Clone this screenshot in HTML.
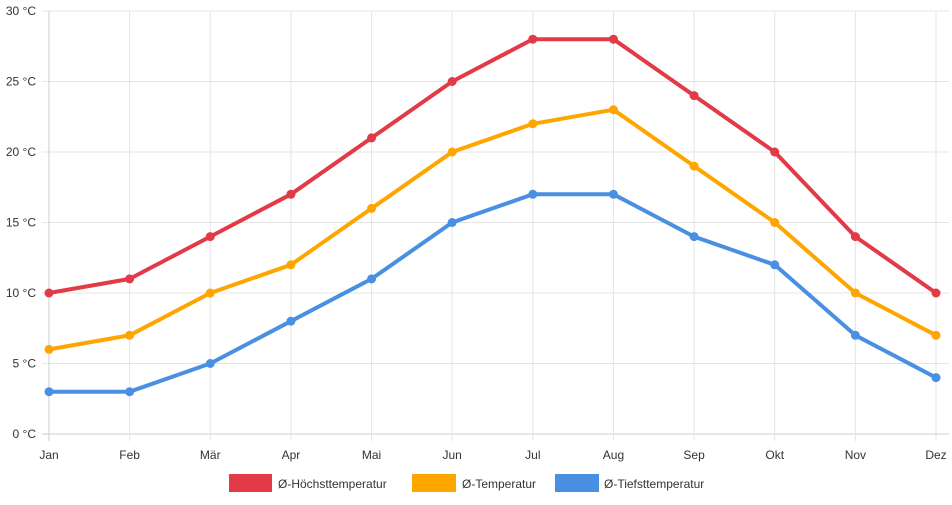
<!DOCTYPE html>
<html><head><meta charset="utf-8"><style>
body{margin:0;background:#fff;font-family:"Liberation Sans",sans-serif}
svg text{font-family:"Liberation Sans",sans-serif;font-size:12px;fill:#333}
</style></head><body>
<svg width="952" height="500">
<g id="grid"></g>
<g id="series"></g>
<g>
<rect x="229" y="474" width="43" height="18" fill="#e23a46"/>
<text x="278" y="488">Ø-Höchsttemperatur</text>
<rect x="412" y="474" width="44" height="18" fill="#ffa500"/>
<text x="462" y="488">Ø-Temperatur</text>
<rect x="555" y="474" width="44" height="18" fill="#4a90e2"/>
<text x="604" y="488">Ø-Tiefsttemperatur</text>
</g>
</svg>
<script>
const months=["Jan","Feb","Mär","Apr","Mai","Jun","Jul","Aug","Sep","Okt","Nov","Dez"];
const maxTemp=[10,11,14,17,21,25,28,28,24,20,14,10];
const avgTemp=[6,7,10,12,16,20,22,23,19,15,10,7];
const minTemp=[3,3,5,8,11,15,17,17,14,12,7,4];
const yTicks=[0,5,10,15,20,25,30];
const NS="http://www.w3.org/2000/svg";
const x=i=>49+i*(887/11);
const y=v=>434-v*(423/30);
const grid=document.getElementById('grid'),ser=document.getElementById('series');
function mk(tag,at,parent){const e=document.createElementNS(NS,tag);for(const k in at)e.setAttribute(k,at[k]);parent.appendChild(e);return e;}
yTicks.forEach(v=>{
  const l=mk('line',{x1:42,x2:949,y1:y(v),y2:y(v),stroke:v===0?'#ccc':'#e5e5e5'},grid);
  
  
  const t=mk('text',{x:36,y:y(v)+4,'text-anchor':'end'},grid);t.textContent=v+' °C';
  
  
});
months.forEach((m,i)=>{
  const l=mk('line',{x1:x(i),x2:x(i),y1:11,y2:441,stroke:i===0?'#ccc':'#e5e5e5'},grid);
  
  
  const t=mk('text',{x:x(i),y:459,'text-anchor':'middle'},grid);t.textContent=m;
  
  
});
[[maxTemp,'#e23a46','max'],[avgTemp,'#ffa500','avg'],[minTemp,'#4a90e2','min']].forEach(([d,c,n])=>{
  const p=mk('polyline',{points:d.map((v,i)=>x(i)+','+y(v)).join(' '),fill:'none',stroke:c,'stroke-width':4,'stroke-linejoin':'round'},ser);
  
  
  d.forEach((v,i)=>{
    const cc=mk('circle',{cx:x(i),cy:y(v),r:4.5,fill:c},ser);
    
    
  });
});
</script>
</body></html>
